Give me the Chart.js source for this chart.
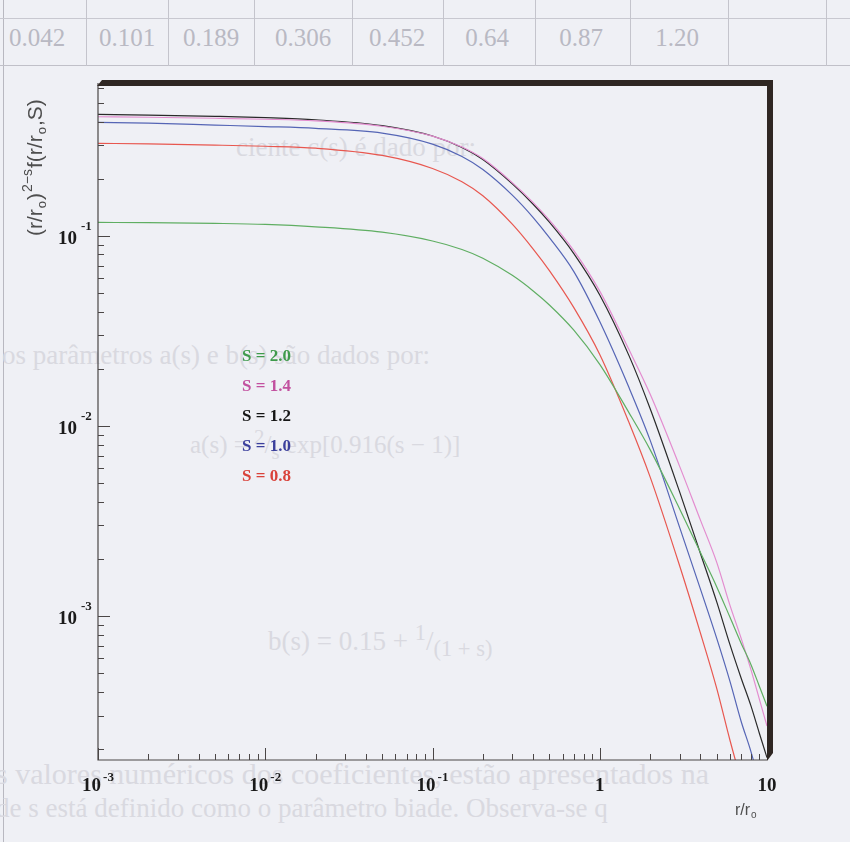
<!DOCTYPE html>
<html>
<head>
<meta charset="utf-8">
<script src="https://cdn.jsdelivr.net/npm/chart.js@4.4.1/dist/chart.umd.min.js"></script>
<style>
html, body { margin: 0; padding: 0; background: #eff0f5; }
#wrap { position: relative; width: 850px; height: 842px; overflow: hidden; }
#bg { position: absolute; left: 0; top: 0; width: 850px; height: 842px; font-family: "Liberation Serif", serif; color: #d9d9e0; }
#bg div { position: absolute; white-space: nowrap; }
#bg .cell { top: 24px; font-size: 25px; color: #b9b9c3; width: 90px; text-align: center; }
#bg .vl { top: 0; width: 1px; height: 66px; background: #c4c4cc; }
canvas { position: absolute; left: 0; top: 0; }
</style>
</head>
<body>
<div id="wrap">
  <div id="bg">
    <div style="left:3px;top:0;width:1px;height:842px;background:#b8b8c0"></div>
    <div style="left:0;top:18px;width:850px;height:1px;background:#c8c8d0"></div>
    <div style="left:0;top:65px;width:850px;height:1px;background:#c0c0c8"></div>
    <div class="vl" style="left:86px"></div>
    <div class="vl" style="left:168px"></div>
    <div class="vl" style="left:254px"></div>
    <div class="vl" style="left:352px"></div>
    <div class="vl" style="left:443px"></div>
    <div class="vl" style="left:535px"></div>
    <div class="vl" style="left:630px"></div>
    <div class="vl" style="left:728px"></div>
    <div class="vl" style="left:826px"></div>
    <div class="cell" style="left:-8px">0.042</div>
    <div class="cell" style="left:82px">0.101</div>
    <div class="cell" style="left:166px">0.189</div>
    <div class="cell" style="left:258px">0.306</div>
    <div class="cell" style="left:352px">0.452</div>
    <div class="cell" style="left:442px">0.64</div>
    <div class="cell" style="left:536px">0.87</div>
    <div class="cell" style="left:632px">1.20</div>
    <div style="left:236px;top:132px;font-size:27px">ciente c(s) é dado por:</div>
    <div style="left:2px;top:340px;font-size:27px">os parâmetros a(s) e b(s) são dados por:</div>
    <div style="left:190px;top:425px;font-size:25px">a(s) = <sup>2</sup>/<sub>s</sub> exp[0.916(s − 1)]</div>
    <div style="left:268px;top:620px;font-size:27px">b(s) = 0.15 + <sup>1</sup>/<sub>(1 + s)</sub></div>
    <div style="left:-4px;top:757px;font-size:30px">s valores numéricos dos coeficientes, estão apresentados na</div>
    <div style="left:-4px;top:793px;font-size:27px">de s está definido como o parâmetro biade. Observa-se q</div>
  </div>
  <canvas id="chart" width="850" height="842"></canvas>
</div>
<script>
// r/r0 sample points read along the x axis
const rValues = [0.001, 0.002, 0.005, 0.01, 0.02, 0.05, 0.1, 0.15, 0.2, 0.3, 0.4, 0.5, 0.7,
                 1, 1.5, 2, 3, 4, 5, 6, 7, 8, 9, 10];

// (r/r0)^(2-s) f(r/r0, S)
const curveS20 = [0.1180, 0.1176, 0.1166, 0.1152, 0.1119, 0.1048, 0.09423, 0.08502, 0.07651, 0.06212, 0.05142, 0.04339, 0.03197,
                  0.02112, 0.01171, 0.00752, 0.003675, 0.002164, 0.00143, 0.000989, 0.000721, 0.000559, 0.000428, 0.000336];
const curveS14 = [0.4245, 0.4219, 0.4169, 0.4119, 0.4040, 0.3784, 0.3360, 0.2940, 0.2558, 0.1912, 0.1501, 0.1214, 0.0839,
                  0.05134, 0.02512, 0.01474, 0.006158, 0.0032, 0.001924, 0.001143, 0.000766, 0.000526, 0.000366, 0.000264];
const curveS12 = [0.4370, 0.4333, 0.4266, 0.4199, 0.4093, 0.3812, 0.3363, 0.2922, 0.2527, 0.1882, 0.1470, 0.1183, 0.0809,
                  0.0490, 0.02335, 0.01238, 0.00452, 0.002138, 0.001193, 0.00071, 0.000473, 0.000339, 0.000242, 0.00018];
const curveS10 = [0.3967, 0.3933, 0.3840, 0.3770, 0.3688, 0.3484, 0.3049, 0.2623, 0.2241, 0.1643, 0.1252, 0.09808, 0.06497,
                  0.03548, 0.01585, 0.00844, 0.00294, 0.001387, 0.000766, 0.000455, 0.00028, 0.000195, 0.000134, 0.0001];
const curveS08 = [0.3075, 0.3057, 0.3012, 0.2969, 0.2901, 0.2656, 0.2268, 0.1931, 0.1630, 0.1155, 0.08544, 0.06582, 0.04204,
                  0.02384, 0.01039, 0.005408, 0.001846, 0.000814, 0.000418, 0.000223, 0.000137, 0.000093, 0.00007, 0.00005];

const seriesLabels = ['S = 2.0', 'S = 1.4', 'S = 1.2', 'S = 1.0', 'S = 0.8'];
const seriesData = [curveS20, curveS14, curveS12, curveS10, curveS08];
const lineColors = ['#5fae62', '#e38ccf', '#2a2a2a', '#5565b5', '#e8574f'];
const textColors = ['#3f9a4c', '#c2509f', '#151515', '#3b3f9c', '#d9423a'];

// tick labels
const xMajor = [0.001, 0.01, 0.1, 1, 10];
const xMajorBase = ['10', '10', '10', '1', '10'];
const xMajorExp = ['-3', '-2', '-1', '', ''];
const yMajor = [0.1, 0.01, 0.001];
const yMajorBase = ['10', '10', '10'];
const yMajorExp = ['-1', '-2', '-3'];

const xMin = 0.001, xMax = 10;
const yMin = 1.75e-4, yMax = 0.639;

const decor = {
    id: 'decor',
    afterDatasetsDraw(chart) {
        const ctx = chart.ctx;
        const a = chart.chartArea;
        const xs = chart.scales.x, ys = chart.scales.y;
        ctx.save();

        // axis lines
        ctx.strokeStyle = '#4a4646';
        ctx.lineWidth = 1.2;
        ctx.beginPath();
        ctx.moveTo(a.left, a.top);
        ctx.lineTo(a.left, a.bottom);
        ctx.lineTo(a.right, a.bottom);
        ctx.stroke();

        // ticks pointing inward
        ctx.lineWidth = 1;
        ctx.beginPath();
        xMajor.forEach(v => {
            const px = Math.round(xs.getPixelForValue(v)) + 0.5;
            ctx.moveTo(px, a.bottom); ctx.lineTo(px, a.bottom - 12);
            if (v < xMax) {
                for (let m = 2; m <= 9; m++) {
                    const p = Math.round(xs.getPixelForValue(v * m)) + 0.5;
                    ctx.moveTo(p, a.bottom); ctx.lineTo(p, a.bottom - 6);
                }
            }
        });
        [0.0001, 0.001, 0.01, 0.1].forEach(d => {
            if (d >= yMin) {
                const py = Math.round(ys.getPixelForValue(d)) + 0.5;
                ctx.moveTo(a.left, py); ctx.lineTo(a.left + 12, py);
            }
            for (let m = 2; m <= 9; m++) {
                const v = d * m;
                if (v < yMin || v > yMax) continue;
                const p = Math.round(ys.getPixelForValue(v)) + 0.5;
                ctx.moveTo(a.left, p); ctx.lineTo(a.left + 6, p);
            }
        });
        ctx.stroke();

        // tick labels with superscripts
        const big = 'bold 19px "Liberation Serif", serif';
        const small = 'bold 13px "Liberation Serif", serif';
        ctx.fillStyle = '#1a1a1a';
        ctx.textBaseline = 'alphabetic';
        ctx.textAlign = 'left';
        xMajor.forEach((v, i) => {
            ctx.font = big;
            const wb = ctx.measureText(xMajorBase[i]).width;
            ctx.font = small;
            const we = xMajorExp[i] ? ctx.measureText(xMajorExp[i]).width + 2 : 0;
            const px = xs.getPixelForValue(v);
            const x0 = px - (wb + we) / 2;
            ctx.font = big;
            ctx.fillText(xMajorBase[i], x0, a.bottom + 31);
            if (xMajorExp[i]) {
                ctx.font = small;
                ctx.fillText(xMajorExp[i], x0 + wb + 2, a.bottom + 21);
            }
        });
        yMajor.forEach((v, i) => {
            const py = ys.getPixelForValue(v);
            ctx.font = big;
            ctx.textAlign = 'right';
            ctx.fillText(yMajorBase[i], a.left - 21, py + 8);
            ctx.font = small;
            ctx.textAlign = 'left';
            ctx.fillText(yMajorExp[i], a.left - 17, py - 6);
        });

        // thick frame on top and right
        ctx.fillStyle = '#2f2723';
        ctx.beginPath();
        ctx.moveTo(a.left - 1, a.top + 3);
        ctx.lineTo(a.left + 4, a.top - 3);
        ctx.lineTo(a.right + 6, a.top - 3);
        ctx.lineTo(a.right + 6, a.bottom - 7);
        ctx.lineTo(a.right, a.bottom + 1);
        ctx.lineTo(a.right, a.top + 3);
        ctx.closePath();
        ctx.fill();

        // legend as coloured text
        ctx.font = 'bold 17px "Liberation Serif", serif';
        ctx.textAlign = 'left';
        chart.data.datasets.forEach((ds, i) => {
            ctx.fillStyle = textColors[i];
            ctx.fillText(ds.label, 242, 361 + i * 30);
        });

        // axis titles
        ctx.fillStyle = '#4e4e4e';
        ctx.font = '16px "Liberation Sans", sans-serif';
        ctx.fillText('r/r', 735, 815);
        let w = ctx.measureText('r/r').width;
        ctx.font = '10px "Liberation Sans", sans-serif';
        ctx.fillText('o', 735 + w + 1, 818);

        ctx.translate(42, 236);
        ctx.rotate(-Math.PI / 2);
        const parts = [
            ['(r/r', 21, 0], ['o', 13, 4], [')', 21, 0], ['2\u2212s', 14, -10],
            ['f(r/r', 21, 0], ['o', 13, 4], [',S)', 21, 0]
        ];
        let cx = 0;
        parts.forEach(p => {
            ctx.font = p[1] + 'px "Liberation Sans", sans-serif';
            ctx.fillText(p[0], cx, p[2]);
            cx += ctx.measureText(p[0]).width + 1;
        });

        ctx.restore();
    }
};

const datasets = seriesData.map((vals, i) => ({
    label: seriesLabels[i],
    data: rValues.map((r, j) => ({ x: r, y: vals[j] })),
    borderColor: lineColors[i],
    borderWidth: 1.2,
    pointRadius: 0,
    fill: false,
    cubicInterpolationMode: 'monotone'
}));

new Chart(document.getElementById('chart').getContext('2d'), {
    type: 'line',
    data: { datasets: datasets },
    options: {
        responsive: false,
        animation: false,
        devicePixelRatio: 1,
        layout: { padding: { left: 98, right: 83, top: 83, bottom: 82 } },
        scales: {
            x: { type: 'logarithmic', min: xMin, max: xMax, display: false },
            y: { type: 'logarithmic', min: yMin, max: yMax, display: false }
        },
        plugins: { legend: { display: false }, tooltip: { enabled: false } }
    },
    plugins: [decor]
});
</script>
</body>
</html>
